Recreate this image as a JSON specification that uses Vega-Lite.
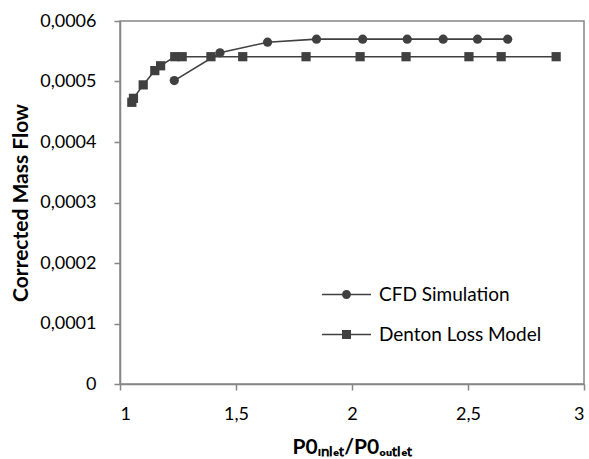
{
  "$schema": "https://vega.github.io/schema/vega-lite/v6.json",
  "autosize": {"type": "none"},
  "padding": {"left": 120, "top": 21, "right": 5, "bottom": 75},
  "width": 464,
  "height": 363,
  "background": "white",
  "data": {
    "values": [
      {"series": "CFD Simulation", "x": 1.234, "y": 0.0005015},
      {"series": "CFD Simulation", "x": 1.431, "y": 0.0005474},
      {"series": "CFD Simulation", "x": 1.636, "y": 0.000565},
      {"series": "CFD Simulation", "x": 1.847, "y": 0.00057},
      {"series": "CFD Simulation", "x": 2.046, "y": 0.00057},
      {"series": "CFD Simulation", "x": 2.238, "y": 0.00057},
      {"series": "CFD Simulation", "x": 2.393, "y": 0.00057},
      {"series": "CFD Simulation", "x": 2.541, "y": 0.00057},
      {"series": "CFD Simulation", "x": 2.671, "y": 0.00057},
      {"series": "Denton Loss Model", "x": 1.051, "y": 0.0004656},
      {"series": "Denton Loss Model", "x": 1.058, "y": 0.0004722},
      {"series": "Denton Loss Model", "x": 1.1, "y": 0.0004944},
      {"series": "Denton Loss Model", "x": 1.15, "y": 0.000518},
      {"series": "Denton Loss Model", "x": 1.175, "y": 0.000526},
      {"series": "Denton Loss Model", "x": 1.236, "y": 0.000541},
      {"series": "Denton Loss Model", "x": 1.268, "y": 0.000541},
      {"series": "Denton Loss Model", "x": 1.392, "y": 0.000541},
      {"series": "Denton Loss Model", "x": 1.529, "y": 0.000541},
      {"series": "Denton Loss Model", "x": 1.802, "y": 0.000541},
      {"series": "Denton Loss Model", "x": 2.035, "y": 0.000541},
      {"series": "Denton Loss Model", "x": 2.233, "y": 0.000541},
      {"series": "Denton Loss Model", "x": 2.504, "y": 0.000541},
      {"series": "Denton Loss Model", "x": 2.643, "y": 0.000541},
      {"series": "Denton Loss Model", "x": 2.88, "y": 0.000541}
    ]
  },
  "encoding": {
    "x": {
      "field": "x", "type": "quantitative",
      "scale": {"domain": [1, 3], "nice": false, "zero": false},
      "axis": {
        "values": [1, 1.5, 2, 2.5, 3],
        "labelExpr": "replace(format(datum.value, '~g'), '.', ',')",
        "title": "P0ᵢₙₗₑₜ/P0ₒᵤₜₗₑₜ",
        "titlePadding": 13,
        "labelPadding": 15
      }
    },
    "y": {
      "field": "y", "type": "quantitative",
      "scale": {"domain": [0, 0.0006], "nice": false},
      "axis": {
        "values": [0, 0.0001, 0.0002, 0.0003, 0.0004, 0.0005, 0.0006],
        "labelExpr": "datum.value == 0 ? '0' : replace(format(datum.value, '.4f'), '.', ',')",
        "title": "Corrected Mass Flow",
        "titlePadding": 8,
        "labelPadding": 18
      }
    }
  },
  "layer": [
    {
      "mark": {"type": "line", "stroke": "#404040", "strokeWidth": 1.6},
      "encoding": {"detail": {"field": "series"}}
    },
    {
      "mark": {"type": "point", "filled": true, "color": "#404040", "opacity": 1, "size": 85},
      "encoding": {
        "shape": {
          "field": "series", "type": "nominal",
          "scale": {"domain": ["CFD Simulation", "Denton Loss Model"], "range": ["circle", "square"]},
          "legend": null
        }
      }
    },
    {
      "mark": {"type": "point", "filled": true, "color": "#404040", "opacity": 0, "size": 100},
      "encoding": {
        "shape": {
          "field": "series", "type": "nominal",
          "scale": {
            "domain": ["CFD Simulation", "Denton Loss Model"],
            "range": [
              "M-4.9,-0.16H-0.78V0.16H-4.9Z M0.78,-0.16H4.9V0.16H0.78Z M0.9,0A0.9,0.9,0,1,1,-0.9,0A0.9,0.9,0,1,1,0.9,0Z",
              "M-4.9,-0.16H-0.85V0.16H-4.9Z M0.85,-0.16H4.9V0.16H0.85Z M-0.9,-0.9H0.9V0.9H-0.9Z"
            ]
          },
          "legend": {
            "title": null,
            "orient": "none",
            "legendX": 217,
            "legendY": 264,
            "labelFont": "Lato",
            "labelFontSize": 19,
            "labelColor": "#000000",
            "labelOffset": 23,
            "labelLimit": 400,
            "rowPadding": 20,
            "symbolSize": 100,
            "symbolOpacity": 1,
            "symbolFillColor": "#404040",
            "symbolStrokeWidth": 0
          }
        }
      }
    }
  ],
  "resolve": {"scale": {"shape": "independent"}},
  "config": {
    "view": {"stroke": "#868686", "strokeWidth": 1.5},
    "axis": {
      "grid": false,
      "domainColor": "#868686",
      "domainWidth": 1.5,
      "tickColor": "#868686",
      "tickWidth": 1.5,
      "tickSize": 6,
      "labelFont": "Lato",
      "labelFontSize": 18,
      "labelColor": "#000000",
      "titleFont": "Lato",
      "titleFontSize": 21,
      "titleFontWeight": "bold",
      "titleColor": "#000000"
    }
  }
}
